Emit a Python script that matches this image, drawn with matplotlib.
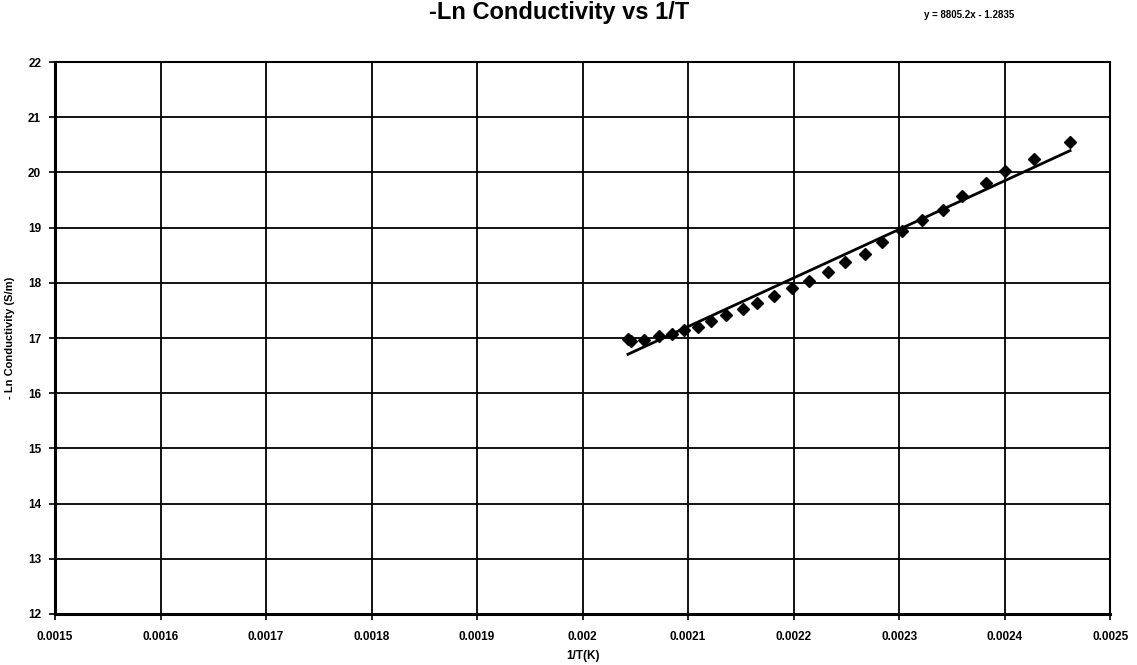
import matplotlib.pyplot as plt

plt.rcParams["font.family"] = ["Liberation Sans", "DejaVu Sans"]
plt.rcParams["font.weight"] = "bold"

inv_t = [0.002043, 0.002046, 0.002058, 0.002072, 0.002085, 0.002096, 0.002109,
         0.002122, 0.002136, 0.002152, 0.002165, 0.002181, 0.002198, 0.002215,
         0.002233, 0.002249, 0.002268, 0.002284, 0.002303, 0.002322, 0.002342,
         0.002360, 0.002382, 0.002400, 0.002428, 0.002462]
neg_ln_cond = [16.99, 16.94, 16.96, 17.03, 17.08, 17.14, 17.20, 17.31, 17.41,
               17.52, 17.63, 17.77, 17.91, 18.04, 18.20, 18.37, 18.53, 18.74,
               18.93, 19.14, 19.32, 19.57, 19.80, 20.03, 20.25, 20.56]

slope = 8805.2
intercept = -1.2835

xticks = [0.0015, 0.0016, 0.0017, 0.0018, 0.0019, 0.002, 0.0021, 0.0022, 0.0023, 0.0024, 0.0025]
xticklabels = ["0.0015", "0.0016", "0.0017", "0.0018", "0.0019", "0.002",
               "0.0021", "0.0022", "0.0023", "0.0024", "0.0025"]
yticks = list(range(12, 23))

fig = plt.figure(figsize=(11.37, 6.65), dpi=100)
ax = fig.add_axes([0.0484, 0.0767, 0.928, 0.830])

# trendline from the displayed equation
x0, x1 = min(inv_t), max(inv_t)
ax.plot([x0, x1], [slope * x0 + intercept, slope * x1 + intercept], "k-", lw=2.0, zorder=3)
ax.plot(inv_t, neg_ln_cond, "kD", ms=6, zorder=4)

ax.set_xlim(0.0015, 0.0025)
ax.set_ylim(12, 22)
ax.set_xticks(xticks)
ax.set_xticklabels(xticklabels)
ax.set_yticks(yticks)

ax.grid(True, color="black", lw=1.3)
ax.set_axisbelow(True)
for s in ax.spines.values():
    s.set_color("black")
    s.set_linewidth(1.5)
ax.spines["left"].set_linewidth(2.2)
ax.spines["bottom"].set_linewidth(2.2)

ax.tick_params(axis="both", labelsize=8.5, length=4, width=1.2, direction="out")
ax.tick_params(axis="x", pad=8)
ax.tick_params(axis="y", pad=6)

ax.set_xlabel("1/T(K)", fontsize=8.5, fontweight="bold", labelpad=5)
ax.set_ylabel("- Ln Conductivity (S/m)", fontsize=8, fontweight="bold", labelpad=9)

fig.text(0.492, 1 - 19 / 665, "-Ln Conductivity vs 1/T", fontsize=17, fontweight="bold",
         ha="center", va="baseline")
fig.text(0.852, 1 - 18 / 665, "y = 8805.2x - 1.2835", fontsize=7, fontweight="bold",
         ha="center", va="baseline")

plt.savefig("out.png", dpi=100)
